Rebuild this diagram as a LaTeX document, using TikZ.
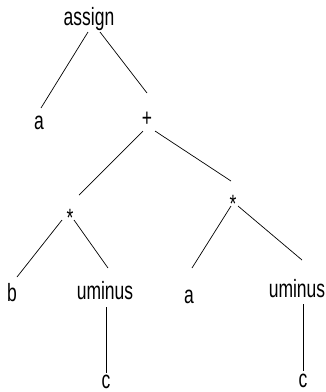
\documentclass[tikz,border=0pt]{standalone}
\usepackage{fontspec}
\newfontfamily\treefont[FakeStretch=0.7]{Liberation Sans}

\begin{document}
\begin{tikzpicture}[x=1pt,y=-1pt,line width=0.7pt,
  lbl/.style={anchor=base,inner sep=0pt,outer sep=0pt,font=\treefont\fontsize{25}{25}\selectfont,text depth=0pt},
  op/.style={lbl,text height=21pt,text depth=4pt}]
 \useasboundingbox (0,0) rectangle (325,392);
 % nodes, placed at their base lines
 \node[lbl,text height=17pt,text depth=7pt] (assign) at (89,25) {assign};
 \node[lbl,text height=21pt] (a1) at (39,129) {a};
 \node[lbl,text height=33pt,text depth=5pt] (plus) at (147,126) {+};
 \node[op] (star1) at (70,216) {\raisebox{-10pt}{*}};
 \node[op] (star2) at (233,202) {\raisebox{-10pt}{*}};
 \node[lbl,text height=24pt] (b) at (12,301) {b};
 \node[lbl,text height=31pt,text depth=8pt] (um1) at (105,299) {uminus};
 \node[lbl,text height=35pt] (a2) at (189,303) {a};
 \node[lbl,text height=37pt,text depth=7pt] (um2) at (297,297) {uminus};
 \node[lbl,text height=15pt] (c1) at (106,388) {c};
 \node[lbl,text height=16pt] (c2) at (303,387) {c};
 % edges
 \draw ([xshift=-1pt]assign.south) -- ([xshift=2pt]a1.north);
 \draw ([xshift=11pt]assign.south) -- (plus.north);
 \draw ([xshift=-4pt]plus.south) -- ([xshift=9pt]star1.north);
 \draw ([xshift=8pt]plus.south) -- ([xshift=-2pt]star2.north);
 \draw ([xshift=-8pt]star1.south) -- ([xshift=5pt]b.north);
 \draw ([xshift=4pt]star1.south) -- ([xshift=3pt]um1.north);
 \draw ([xshift=-2pt]star2.south) -- ([xshift=3pt]a2.north);
 \draw ([xshift=5pt]star2.south) -- ([xshift=5pt]um2.north);
 \draw (c1.north |- um1.south) -- (c1.north);
 \draw (c2.north |- um2.south) -- (c2.north);
\end{tikzpicture}
\end{document}
